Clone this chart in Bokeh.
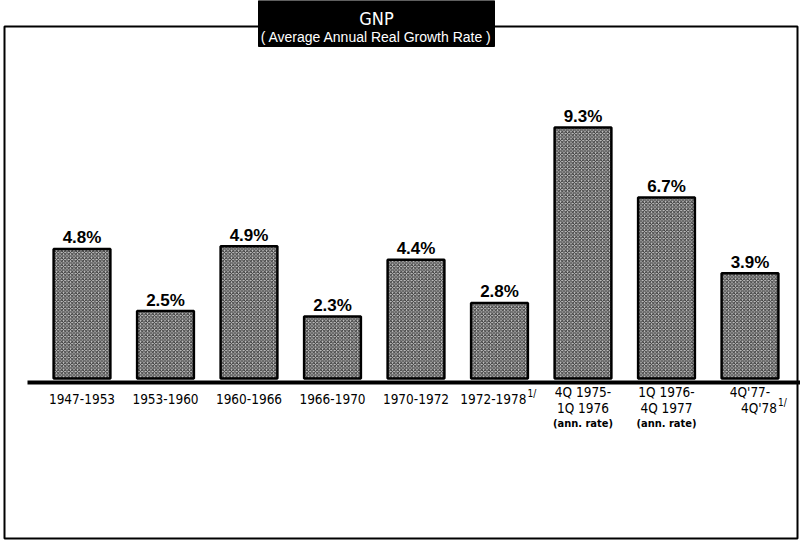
from bokeh.plotting import figure
from bokeh.models import Range1d, ColumnDataSource
from bokeh.core.properties import value
from bokeh.embed import file_html
from bokeh.resources import INLINE

# ---- data ----
growth = [4.8, 2.5, 4.9, 2.3, 4.4, 2.8, 9.3, 6.7, 3.9]
value_labels = ["4.8%", "2.5%", "4.9%", "2.3%", "4.4%", "2.8%", "9.3%", "6.7%", "3.9%"]
label_line1 = ["1947-1953", "1953-1960", "1960-1966", "1966-1970", "1970-1972",
               "1972-1978", "4Q 1975-", "1Q 1976-", "4Q'77-"]
label_line2 = ["", "", "", "", "", "", "1Q 1976", "4Q 1977", "4Q'78"]
label_line3 = ["", "", "", "", "", "", "(ann. rate)", "(ann. rate)", ""]
footnote_line = [0, 0, 0, 0, 0, 1, 0, 0, 2]   # which line carries the "1/" mark
title = "GNP"
subtitle = "( Average Annual Real Growth Rate )"

# ---- layout ----
W, H = 800, 540
PX_X = 83.5          # pixels per category step
PX_Y = 27.0          # pixels per percentage point
X0_PX = 81.5         # pixel of first bar centre
Y0_PX = 378.0        # pixel of zero line (from top)

x_start = -X0_PX / PX_X
x_end = (W - X0_PX) / PX_X
y_end = Y0_PX / PX_Y
y_start = (Y0_PX - H) / PX_Y


def X(px):
    return x_start + px / PX_X


def Y(py):
    return y_end - py / PX_Y


p = figure(width=W, height=H, output_backend="svg", toolbar_location=None,
           x_range=Range1d(x_start, x_end), y_range=Range1d(y_start, y_end),
           min_border=0, min_border_left=0, min_border_right=0,
           min_border_top=0, min_border_bottom=0)
p.axis.visible = False
p.grid.visible = False
p.outline_line_color = None
p.background_fill_color = "white"
p.border_fill_color = "white"

idx = list(range(len(growth)))
src = ColumnDataSource(dict(x=idx, top=growth, lab=value_labels))

CAT_FONT = value("DejaVu Sans Condensed")
CAT_SIZE = "13.5px"

# frame
p.quad(left=[X(4)], right=[X(797)], top=[Y(26)], bottom=[Y(538)],
       fill_color=None, line_color="black", line_width=2)

# title box
p.quad(left=[X(258)], right=[X(494)], top=[Y(0)], bottom=[Y(46)],
       fill_color="black", line_color="black")
p.text(x=[X(376)], y=[Y(18)], text=[title], text_color="white",
       text_font=CAT_FONT, text_font_size="18px",
       text_align="center", text_baseline="middle")
p.text(x=[X(376)], y=[Y(36)], text=[subtitle], text_color="white",
       text_font=value("Liberation Sans"), text_font_size="14px",
       text_align="center", text_baseline="middle")

# bars
p.vbar(x="x", top="top", bottom=0, width=0.68, source=src,
       fill_color="#c8c8c8", line_color="black", line_width=2.5,
       hatch_pattern="diagonal_cross", hatch_color="#333333",
       hatch_scale=3.5, hatch_weight=1)

# baseline
p.segment(x0=[X(27)], x1=[X(W)], y0=[Y(Y0_PX + 4)], y1=[Y(Y0_PX + 4)],
          line_color="black", line_width=4)

# value labels
p.text(x="x", y="top", text="lab", source=src, y_offset=-11,
       text_font=value("Liberation Sans"), text_font_style="bold",
       text_font_size="17px", text_align="center", text_baseline="middle")

# category labels
for i in idx:
    multi = label_line2[i] != ""
    lines = [label_line1[i], label_line2[i]]
    offs = [13, 29] if multi else [20]
    for k, off in enumerate(offs):
        txt = lines[k]
        if footnote_line[i] == k + 1:
            p.text(x=[i], y=[0], text=[txt], x_offset=27, y_offset=off,
                   text_font=CAT_FONT, text_font_size=CAT_SIZE,
                   text_align="right", text_baseline="middle")
            p.text(x=[i], y=[0], text=["1/"], x_offset=28, y_offset=off - 5,
                   text_font=CAT_FONT, text_font_size="10px",
                   text_align="left", text_baseline="middle")
        else:
            p.text(x=[i], y=[0], text=[txt], y_offset=off,
                   text_font=CAT_FONT, text_font_size=CAT_SIZE,
                   text_align="center", text_baseline="middle")
    if label_line3[i]:
        p.text(x=[i], y=[0], text=[label_line3[i]], y_offset=45,
               text_font=CAT_FONT, text_font_style="bold",
               text_font_size="11px", text_align="center",
               text_baseline="middle")

open("out.html", "w").write(file_html(p, INLINE))
